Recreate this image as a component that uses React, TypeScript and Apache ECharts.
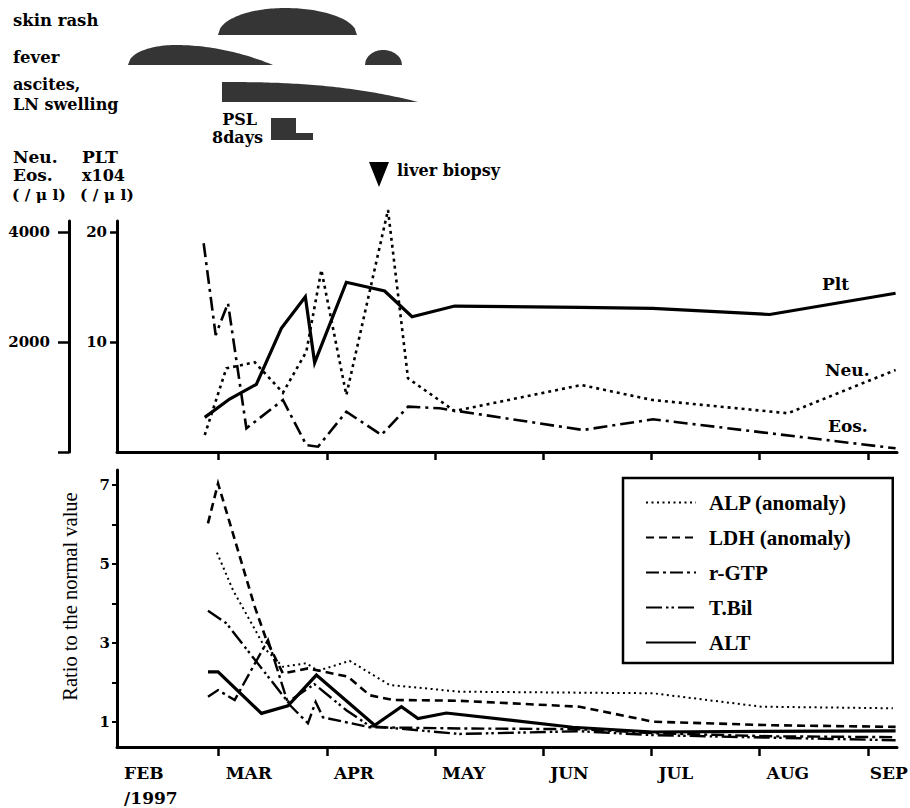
import React, { useEffect, useRef } from "react";
import * as echarts from "echarts";

// ---------- data (x = months after 1 Feb 1997) ----------
const monthTickValues = [1, 2, 3, 4, 5, 6, 7];
const monthLabelValues = [0.061, 1, 2, 3, 4, 5, 6, 7];
const monthLabels = ["FEB\n/1997", "MAR", "APR", "MAY", "JUN", "JUL", "AUG", "SEP"];

// upper panel
const pltX = [0.871, 1.101, 1.348, 1.579, 1.801, 1.887, 2.18, 2.534, 2.787, 3.181, 4.336, 5.011, 6.093, 7.257];
const pltY = [3.15, 4.82, 6.15, 11.25, 14.12, 8.12, 15.43, 14.64, 12.3, 13.27, 13.15, 13.06, 12.5, 14.43];
const neuX = [0.871, 1.071, 1.333, 1.594, 1.81, 1.949, 2.18, 2.565, 2.75, 3.181, 4.352, 5.011, 6.262, 7.257];
const neuY = [309, 1522, 1631, 1078, 1824, 3309, 1036, 4400, 1340, 745, 1218, 945, 704, 1491];
const eosX = [0.861, 0.972, 1.086, 1.256, 1.594, 1.81, 1.918, 2.18, 2.504, 2.75, 3.043, 4.367, 5.014, 7.257];
const eosY = [3795, 2127, 2704, 431, 945, 127, 96, 733, 309, 824, 795, 400, 595, 67];

// lower panel (ratio to the normal value)
const alpX = [0.984, 1.132, 1.287, 1.441, 1.594, 1.81, 1.918, 2.211, 2.58, 3.227, 5.014, 6.016, 7.232];
const alpY = [5.29, 4.34, 3.58, 2.82, 2.4, 2.49, 2.3, 2.55, 1.94, 1.77, 1.73, 1.39, 1.35];
const ldhX = [0.901, 0.994, 1.333, 1.441, 1.594, 1.825, 2.195, 2.396, 2.611, 3.227, 4.336, 5.014, 6.123, 7.257];
const ldhY = [6.03, 7.04, 3.92, 3.08, 2.23, 2.36, 2.15, 1.68, 1.56, 1.54, 1.39, 1.01, 0.92, 0.88];
const rgtpX = [0.901, 0.994, 1.148, 1.456, 1.64, 1.825, 1.896, 1.964, 2.396, 3.227, 4.336, 5.014, 6.123, 7.257];
const rgtpY = [1.64, 1.81, 1.56, 3.08, 1.48, 0.97, 1.51, 1.12, 0.87, 0.84, 0.82, 0.72, 0.64, 0.62];
const tbilX = [0.901, 1.071, 1.64, 1.885, 2.18, 2.396, 3.227, 4.336, 5.014, 7.257];
const tbilY = [3.82, 3.5, 1.51, 1.96, 1.3, 0.9, 0.7, 0.77, 0.67, 0.54];
const altX = [0.901, 0.994, 1.395, 1.64, 1.903, 2.442, 2.689, 2.842, 3.104, 4.272, 5.011, 7.257];
const altY = [2.27, 2.27, 1.22, 1.41, 2.19, 0.92, 1.39, 1.09, 1.23, 0.87, 0.75, 0.78];

const zip = (xs: number[], ys: number[]) => xs.map((x, i) => [x, ys[i]]);

const SERIF_B = '"DejaVu Serif"';
const TIMES = '"Liberation Serif"';

function hump(x0: number, x1: number, base: number, top: number, peak: number,
  aL: number, bL: number, aR: number, bR: number, vertLeft = false) {
  const pts: number[][] = [];
  const n = 60;
  if (vertLeft) pts.push([x0, base]);
  for (let i = 0; i <= n; i++) {
    const x = x0 + ((x1 - x0) * i) / n;
    let h: number;
    if (x <= peak) {
      const t = peak === x0 ? 0 : (peak - x) / (peak - x0);
      h = Math.pow(Math.max(0, 1 - Math.pow(t, aL)), bL);
    } else {
      const t = (x - peak) / (x1 - peak);
      h = Math.pow(Math.max(0, 1 - Math.pow(t, aR)), bR);
    }
    pts.push([x, base - (base - top) * h]);
  }
  return pts;
}

function txt(text: string, x: number, y: number, size: number, align = "left", family = SERIF_B, weight = "bold") {
  return {
    type: "text",
    x, y,
    silent: true,
    style: {
      text, fontSize: size, fontWeight: weight, fontFamily: family, fill: "#000",
      align, verticalAlign: "middle", textAlign: align, textVerticalAlign: "middle",
    },
  };
}

export default function App() {
  const ref = useRef<HTMLDivElement>(null);
  useEffect(() => {
    if (!ref.current) return;
    const chart = echarts.init(ref.current, undefined, { renderer: "svg" });
    const black = "#000";
    const fillGray = "#353535";
    const monthFont = { fontFamily: SERIF_B, fontWeight: "bold", fontSize: 17, color: black };

    const xAxisBase = (gridIndex: number, showLabel: boolean) => ({
      type: "value",
      gridIndex,
      min: 0.06,
      max: 7.27,
      splitLine: { show: false },
      axisLine: { show: true, onZero: false, lineStyle: { color: black, width: 3 } },
      axisTick: { show: true, customValues: monthTickValues, length: gridIndex === 0 ? 8 : 9, lineStyle: { color: black, width: 2.5 } },
      axisLabel: showLabel
        ? {
            show: true,
            customValues: monthLabelValues,
            formatter: (v: number) => {
              const i = monthLabelValues.findIndex((t) => Math.abs(t - v) < 1e-6);
              if (i < 0) return "";
              const style = i === monthLabels.length - 1 ? "e" : "m";
              return monthLabels[i].split("\n").map((s) => `{${style}|${s}}`).join("\n");
            },
            align: "left",
            margin: 13,
            rich: {
              m: { ...monthFont, padding: [0, 0, 0, 7], lineHeight: 25 },
              e: { ...monthFont, padding: [0, 0, 0, 2], lineHeight: 25 },
            },
          }
        : { show: false },
    });

    const lineSeries = (name: string, xs: number[], ys: number[], xi: number, yi: number, type: any, width: number) => ({
      name,
      type: "line",
      xAxisIndex: xi,
      yAxisIndex: yi,
      data: zip(xs, ys),
      symbol: "none",
      showSymbol: false,
      clip: false,
      silent: true,
      lineStyle: { color: black, width, type, cap: "butt", join: "miter" },
      itemStyle: { color: black },
      emphasis: { disabled: true },
    });

    const numLabel = { color: black, fontFamily: SERIF_B, fontWeight: "bold", fontSize: 15, formatter: (v: number) => String(v) };

    const option: any = {
      animation: false,
      backgroundColor: "#fff",
      grid: [
        { left: 117, top: 221, width: 780, height: 231, outerBoundsMode: "none" },
        { left: 117, top: 470, width: 780, height: 277, outerBoundsMode: "none" },
      ],
      xAxis: [xAxisBase(0, false), xAxisBase(1, true)],
      yAxis: [
        {
          type: "value", gridIndex: 0, min: 0, max: 21, position: "left",
          splitLine: { show: false },
          axisLine: { show: true, lineStyle: { color: black, width: 3 } },
          axisTick: { show: true, customValues: [10, 20], length: 7, lineStyle: { color: black, width: 2.5 } },
          axisLabel: { ...numLabel, customValues: [10, 20], margin: 10 },
        },
        {
          type: "value", gridIndex: 0, min: 0, max: 4200, position: "left", offset: 48,
          splitLine: { show: false },
          axisLine: { show: true, lineStyle: { color: black, width: 3 } },
          axisTick: { show: true, customValues: [0, 2000, 4000], length: 11, lineStyle: { color: black, width: 2.5 } },
          axisLabel: { ...numLabel, customValues: [2000, 4000], margin: 19 },
        },
        {
          type: "value", gridIndex: 1, min: 0.37, max: 7.38, position: "left",
          name: "Ratio to the normal value",
          nameLocation: "middle",
          nameGap: 37,
          nameRotate: 90,
          nameTextStyle: { fontFamily: TIMES, fontSize: 20.5, color: black, padding: [0, 0, 0, 24] },
          splitLine: { show: false },
          axisLine: { show: true, lineStyle: { color: black, width: 3 } },
          axisTick: { show: true, customValues: [1, 2, 3, 4, 5, 6, 7], length: 5, lineStyle: { color: black, width: 2 } },
          axisLabel: { ...numLabel, customValues: [1, 3, 5, 7], margin: 7 },
        },
      ],
      legend: {
        data: ["ALP (anomaly)", "LDH (anomaly)", "r-GTP", "T.Bil", "ALT"],
        orient: "vertical",
        left: 623,
        top: 478,
        itemWidth: 50,
        itemHeight: 14,
        itemGap: 14,
        padding: [14, 42, 10, 22],
        borderColor: black,
        borderWidth: 2.5,
        selectedMode: false,
        itemStyle: { color: "rgba(0,0,0,0)", borderWidth: 0, opacity: 0 },
        textStyle: { fontFamily: TIMES, fontWeight: "bold", fontSize: 21, color: black, padding: [0, 0, 0, 8] },
      },
      series: [
        lineSeries("Plt", pltX, pltY, 0, 0, "solid", 3.2),
        lineSeries("Neu.", neuX, neuY, 0, 1, [3, 4], 2.6),
        lineSeries("Eos.", eosX, eosY, 0, 1, [14, 5, 3, 5], 2.6),
        lineSeries("ALP (anomaly)", alpX, alpY, 1, 2, [2, 3.5], 2),
        lineSeries("LDH (anomaly)", ldhX, ldhY, 1, 2, [8, 5], 2.6),
        lineSeries("r-GTP", rgtpX, rgtpY, 1, 2, [13, 4, 3, 4], 2.4),
        lineSeries("T.Bil", tbilX, tbilY, 1, 2, [16, 4, 2.5, 3, 2.5, 4], 2.4),
        lineSeries("ALT", altX, altY, 1, 2, "solid", 3.2),
      ],
      graphic: [
        // symptom timeline bars
        { type: "polygon", silent: true, shape: { points: hump(218, 357, 35, 8, 285, 2, 0.5, 2, 0.5) }, style: { fill: fillGray } },
        { type: "polygon", silent: true, shape: { points: hump(128, 273, 65, 45, 175, 2, 0.5, 2, 1) }, style: { fill: fillGray } },
        { type: "polygon", silent: true, shape: { points: hump(365, 402, 65, 50, 383, 2, 0.5, 2, 0.5) }, style: { fill: fillGray } },
        { type: "polygon", silent: true, shape: { points: hump(222, 418, 102, 82, 222, 2, 1, 2.5, 1, true) }, style: { fill: fillGray } },
        { type: "polygon", silent: true, shape: { points: [[271, 118], [296, 118], [296, 133], [313, 133], [313, 140], [271, 140]] }, style: { fill: fillGray } },
        txt("skin rash", 13, 20, 16.5),
        txt("fever", 13, 57, 16.5),
        txt("ascites,", 13, 84, 16),
        txt("LN swelling", 13, 104, 16),
        txt("PSL", 257, 119, 16, "right"),
        txt("8days", 263, 137, 16, "right"),
        txt("Neu.", 13, 157, 17),
        txt("PLT", 82, 157, 17),
        txt("Eos.", 13, 175, 17),
        txt("x104", 82, 175, 16),
        txt("( / μ l)", 12, 194, 15.5),
        txt("( / μ l)", 80, 194, 15.5),
        // liver biopsy marker
        { type: "polygon", silent: true, shape: { points: [[369, 162], [389, 162], [379, 187]] }, style: { fill: black } },
        txt("liver biopsy", 397, 170, 16),
        // line end labels
        txt("Plt", 822, 284, 17),
        txt("Neu.", 825, 370, 17),
        txt("Eos.", 828, 426, 17),
      ],
    };
    chart.setOption(option);
    return () => chart.dispose();
  }, []);
  return <div ref={ref} style={{ position: "fixed", left: 0, top: 0, width: 910, height: 808, background: "#fff" }} />;
}
